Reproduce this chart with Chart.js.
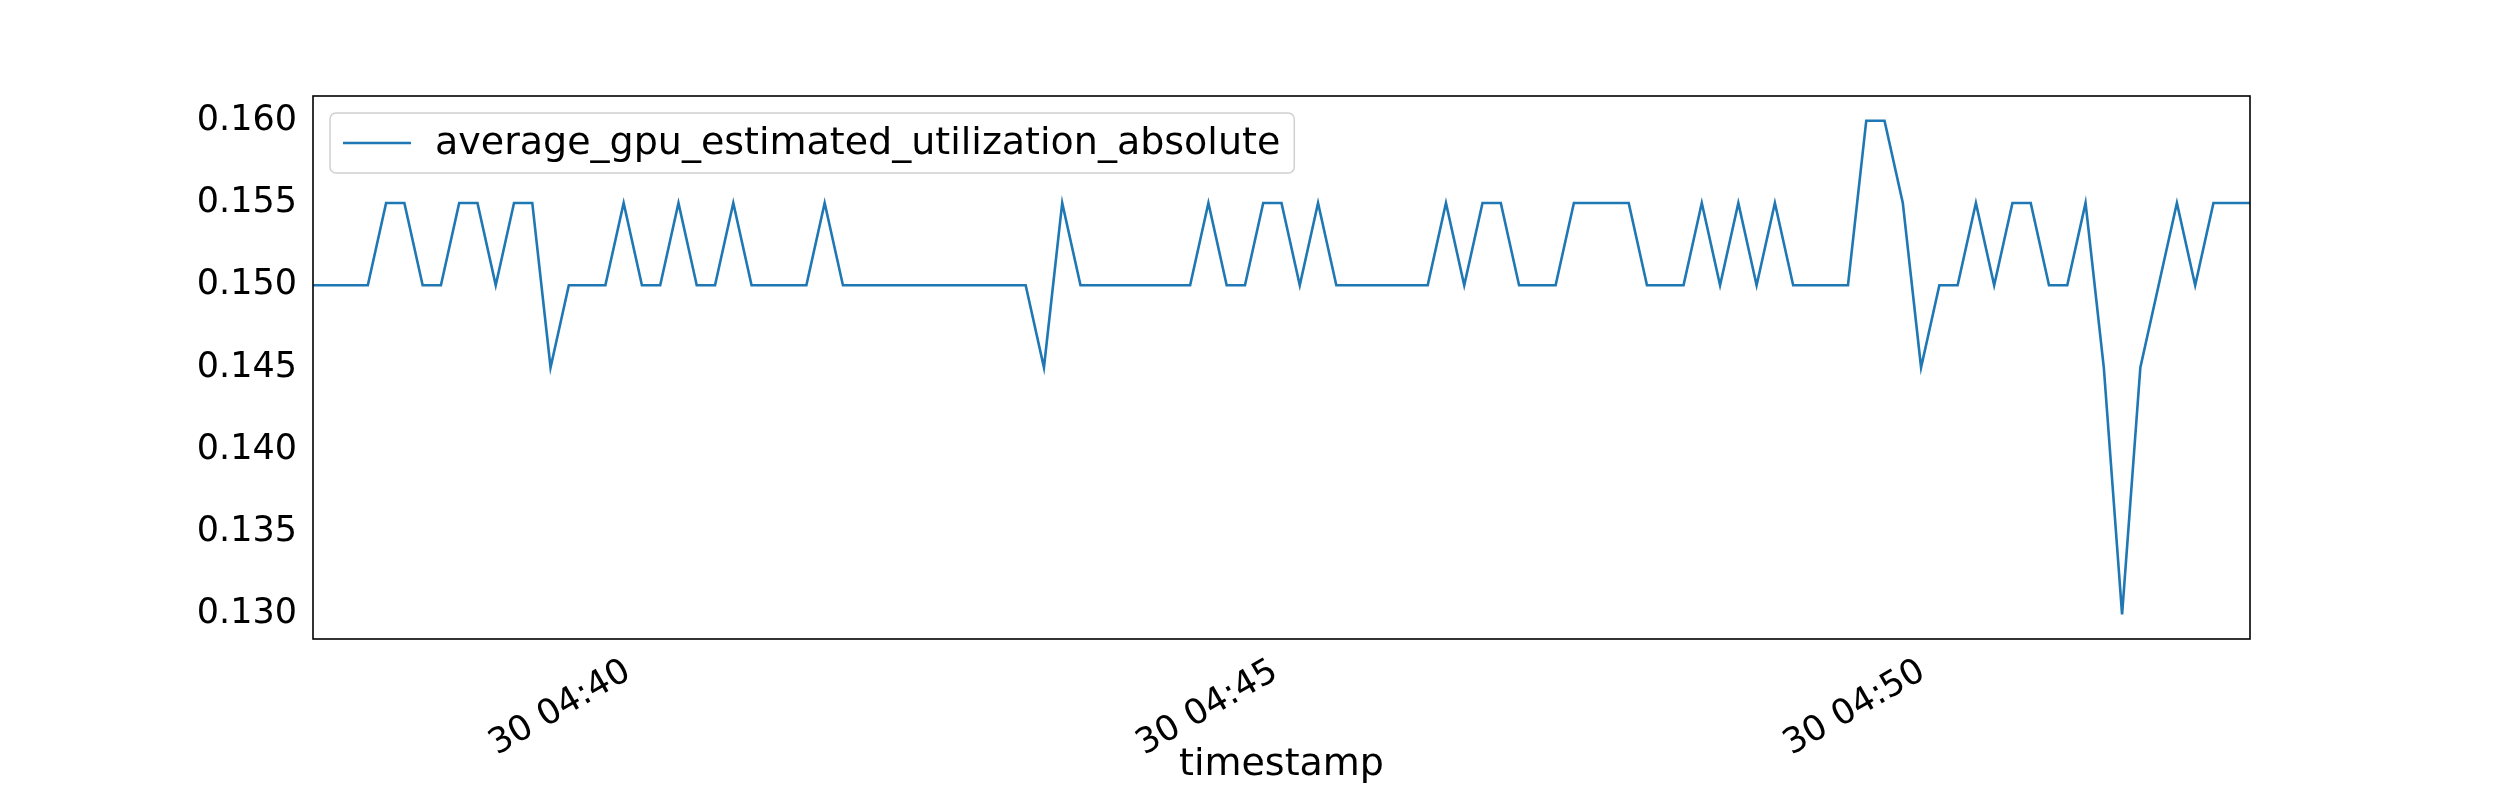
<!DOCTYPE html>
<html>
<head>
<meta charset="utf-8">
<script src="https://cdn.jsdelivr.net/npm/chart.js@4"></script>
<style>
  body { margin: 0; background: #fff; }
  #wrap { width: 2500px; height: 800px; }
</style>
</head>
<body>
<div id="wrap"><canvas id="myChart" width="2500" height="800"></canvas></div>
<script>
// DATA
const seriesName = "average_gpu_estimated_utilization_absolute";
const utilization = [
  0.150, 0.150, 0.150, 0.150, 0.155, 0.155, 0.150, 0.150, 0.155, 0.155,
  0.150, 0.155, 0.155, 0.145, 0.150, 0.150, 0.150, 0.155, 0.150, 0.150,
  0.155, 0.150, 0.150, 0.155, 0.150, 0.150, 0.150, 0.150, 0.155, 0.150,
  0.150, 0.150, 0.150, 0.150, 0.150, 0.150, 0.150, 0.150, 0.150, 0.150,
  0.145, 0.155, 0.150, 0.150, 0.150, 0.150, 0.150, 0.150, 0.150, 0.155,
  0.150, 0.150, 0.155, 0.155, 0.150, 0.155, 0.150, 0.150, 0.150, 0.150,
  0.150, 0.150, 0.155, 0.150, 0.155, 0.155, 0.150, 0.150, 0.150, 0.155,
  0.155, 0.155, 0.155, 0.150, 0.150, 0.150, 0.155, 0.150, 0.155, 0.150,
  0.155, 0.150, 0.150, 0.150, 0.150, 0.160, 0.160, 0.155, 0.145, 0.150,
  0.150, 0.155, 0.150, 0.155, 0.155, 0.150, 0.150, 0.155, 0.145, 0.130,
  0.145, 0.150, 0.155, 0.150, 0.155, 0.155, 0.155
];
// sample times, seconds after 04:00 on the 30th
const startSec = 37 * 60 + 34;
const stepSec = 8.47;
const timestamps = utilization.map((_, i) => startSec + i * stepSec);
const xTickLabels = ["30 04:40", "30 04:45", "30 04:50"];
const xTickSecs = [40 * 60, 45 * 60, 50 * 60];
const yTicks = [0.130, 0.135, 0.140, 0.145, 0.150, 0.155, 0.160];

const FONT = "'DejaVu Sans', sans-serif";
const BLUE = "#1f77b4";

// legend + frame, drawn matplotlib-style inside the axes
const framePlugin = {
  id: "frame",
  afterDraw(chart) {
    const c = chart.ctx, a = chart.chartArea;
    c.save();
    c.strokeStyle = "#000";
    c.lineWidth = 1.6;
    c.strokeRect(a.left, a.top, a.right - a.left, a.bottom - a.top);

    // legend box
    c.font = "38px " + FONT;
    const label = chart.data.datasets[0].label;
    const bx = a.left + 17, by = a.top + 17, bh = 60;
    const bw = 105 + c.measureText(label).width + 14;
    c.fillStyle = "rgba(255,255,255,0.8)";
    c.strokeStyle = "#d0d0d0";
    c.lineWidth = 1.5;
    c.beginPath();
    c.roundRect(bx, by, bw, bh, 6);
    c.fill();
    c.stroke();
    c.strokeStyle = BLUE;
    c.lineWidth = 2.5;
    c.beginPath();
    c.moveTo(bx + 13, by + bh / 2);
    c.lineTo(bx + 81, by + bh / 2);
    c.stroke();
    c.fillStyle = "#000";
    c.textBaseline = "middle";
    c.fillText(label, bx + 105, by + bh / 2 + 1);
    c.restore();
  }
};

const ctx = document.getElementById("myChart");

new Chart(ctx, {
  type: "line",
  data: {
    datasets: [
      {
        label: seriesName,
        data: timestamps.map((t, i) => ({ x: t, y: utilization[i] })),
        borderColor: BLUE,
        borderWidth: 2.6,
        pointRadius: 0,
        tension: 0,
      },
    ],
  },
  options: {
    responsive: false,
    animation: false,
    layout: { padding: { top: 96, right: 250, left: 0, bottom: 0 } },
    plugins: { legend: { display: false }, tooltip: { enabled: false } },
    scales: {
      x: {
        type: "linear",
        min: timestamps[0],
        max: timestamps[timestamps.length - 1],
        afterBuildTicks: (s) => { s.ticks = xTickSecs.map((v) => ({ value: v })); },
        afterFit: (s) => { s.height = 161; },
        grid: { display: false, drawTicks: true, tickLength: 8, tickColor: "#000" },
        border: { display: false },
        ticks: {
          color: "#000",
          font: { family: FONT, size: 35 },
          maxRotation: 30,
          minRotation: 30,
          padding: 4,
          callback: (v) => xTickLabels[xTickSecs.indexOf(v)] || "",
        },
        title: {
          display: true,
          text: "timestamp",
          color: "#000",
          font: { family: FONT, size: 38 },
          padding: { top: 0, bottom: 12 },
        },
      },
      y: {
        min: 0.1285,
        max: 0.1615,
        afterBuildTicks: (s) => { s.ticks = yTicks.map((v) => ({ value: v })); },
        afterFit: (s) => { s.width = 313; },
        grid: { display: false, drawTicks: true, tickLength: 8, tickColor: "#000" },
        border: { display: false },
        ticks: {
          color: "#000",
          font: { family: FONT, size: 35 },
          padding: 8,
          callback: (v) => v.toFixed(3),
        },
      },
    },
  },
  plugins: [framePlugin],
});
</script>
</body>
</html>
